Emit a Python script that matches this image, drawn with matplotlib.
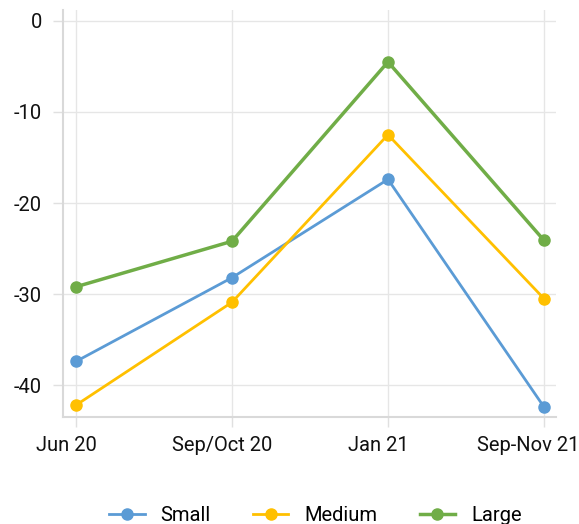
import matplotlib
matplotlib.use("Agg")
import matplotlib.pyplot as plt
from matplotlib.transforms import ScaledTranslation

plt.rcParams["font.family"] = ["Roboto", "DejaVu Sans"]

periods = ["Jun 20", "Sep/Oct 20", "Jan 21", "Sep-Nov 21"]
small = [-37.4, -28.2, -17.4, -42.4]
medium = [-42.2, -30.9, -12.5, -30.5]
large = [-29.2, -24.2, -4.5, -24.1]

series = [
    ("Small", small, "#5B9BD5", 2.0),
    ("Medium", medium, "#FFC000", 2.0),
    ("Large", large, "#70AD47", 2.5),
]

fig = plt.figure(figsize=(5.79, 5.24), dpi=100)
ax = fig.add_axes([63 / 579, 1 - 417 / 524, (556 - 63) / 579, (417 - 10) / 524])

x = list(range(len(periods)))
for name, vals, col, lw in series:
    ax.plot(x, vals, color=col, lw=lw, marker="o", ms=8, label=name, zorder=3)

ax.set_xlim(-0.083, 3.077)
ax.set_ylim(-43.5, 1.2)
ax.set_xticks(x)
ax.set_xticklabels(periods)
ax.set_yticks([0, -10, -20, -30, -40])
ax.set_yticklabels(["0", "-10", "-20", "-30", "-40"])
ax.grid(True, color="#e6e6e6", lw=1)
ax.set_axisbelow(True)
for s in ("top", "right"):
    ax.spines[s].set_visible(False)
for s in ("left", "bottom"):
    ax.spines[s].set_color("#d9d9d9")
    ax.spines[s].set_linewidth(1.5)
ax.tick_params(axis="both", colors="#e0e0e0", length=7, width=1, labelsize=14.5,
               labelcolor="#111111")
ax.tick_params(axis="x", pad=7)
ax.tick_params(axis="y", pad=8)

# labels in the source sit a little left of their ticks; last one kept inside the figure
labs = ax.get_xticklabels()
for i, lab in enumerate(labs):
    dx = -16 if i == len(labs) - 1 else -10
    lab.set_transform(lab.get_transform() + ScaledTranslation(dx / 100, 0, fig.dpi_scale_trans))

fig.legend(loc="lower center", bbox_to_anchor=(0.545, -0.036), ncol=3, frameon=False,
           fontsize=14.5, handlelength=1.75, columnspacing=2.1, handletextpad=0.8)

fig.savefig("out.png", dpi=100)
